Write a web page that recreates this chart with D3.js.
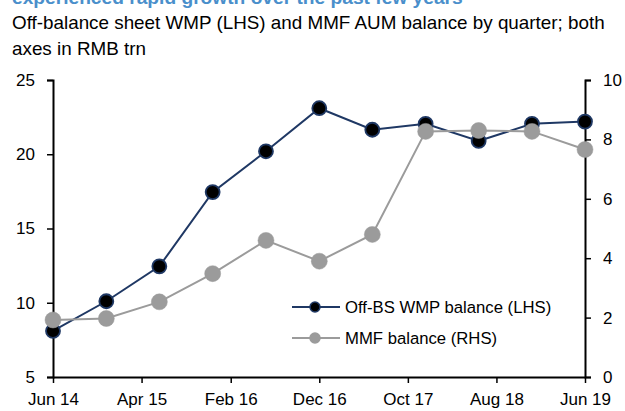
<!DOCTYPE html>
<html>
<head>
<meta charset="utf-8">
<script src="https://cdn.jsdelivr.net/npm/d3@7"></script>
<style>
  html, body { margin: 0; padding: 0; background: #fff; }
  svg { display: block; font-family: Arial, "Liberation Sans", sans-serif; }
</style>
</head>
<body>
<svg id="chart" width="625" height="411"></svg>
<script>
// ---- data ----
const dates = ["2014-06","2014-12","2015-06","2015-12","2016-06","2016-12","2017-06","2017-12","2018-06","2018-12","2019-06"];
const wmpValues = [8.1, 10.1, 12.45, 17.45, 20.2, 23.1, 21.65, 22.05, 20.9, 22.05, 22.2];
const mmfValues = [1.92, 1.97, 2.53, 3.48, 4.6, 3.9, 4.8, 8.27, 8.3, 8.27, 7.66];
const xTickLabels = ["2014-06","2015-04","2016-02","2016-12","2017-10","2018-08","2019-06"];
const leftTicks = [5, 10, 15, 20, 25];
const rightTicks = [0, 2, 4, 6, 8, 10];
const seriesNames = ["Off-BS WMP balance (LHS)", "MMF balance (RHS)"];
const titleText = "experienced rapid growth over the past few years";
const subtitleLines = ["Off-balance sheet WMP (LHS) and MMF AUM balance by quarter; both", "axes in RMB trn"];

const parse = d3.timeParse("%Y-%m");
const fmt = d3.timeFormat("%b %y");

const svg = d3.select("#chart");
const m = {left: 53, right: 585, top: 80, bottom: 377};

const x = d3.scaleTime().domain([parse(dates[0]), parse(dates[dates.length-1])]).range([m.left, m.right]);
const yL = d3.scaleLinear().domain([5, 25]).range([m.bottom, m.top]);
const yR = d3.scaleLinear().domain([0, 10]).range([m.bottom, m.top]);

const navy = "#1f3864";
const gray = "#9b9b9b";

// fit a text element's font size so it spans a target width
function fitSize(sel, base, target) {
  sel.attr("font-size", base);
  const w = sel.node().getComputedTextLength();
  const fs = base * target / w;
  sel.attr("font-size", fs);
  return fs;
}

// titles
const t0 = svg.append("text").attr("x", 12).attr("y", 4)
  .attr("font-weight", "bold").attr("fill", "#4a8fcb").text(titleText);
fitSize(t0, 18, 451);
const s1 = svg.append("text").attr("x", 12).attr("y", 28.5).attr("fill", "#000").text(subtitleLines[0]);
const fsSub = fitSize(s1, 18, 593);
svg.append("text").attr("x", 12).attr("y", 54.5).attr("fill", "#000")
  .attr("font-size", fsSub).text(subtitleLines[1]);

// axes
function styleAxis(g) {
  g.selectAll("path").attr("stroke", "#000").attr("stroke-width", 2);
  g.selectAll("line").attr("stroke", "#000").attr("stroke-width", 1.5);
  g.selectAll("text").attr("font-size", 17).attr("fill", "#000").attr("font-family", "Arial, 'Liberation Sans', sans-serif");
}
svg.append("g").attr("transform", `translate(${m.left},0)`)
  .call(d3.axisLeft(yL).tickValues(leftTicks).tickSizeInner(6).tickSizeOuter(6).tickPadding(12))
  .call(styleAxis);
svg.append("g").attr("transform", `translate(${m.right},0)`)
  .call(d3.axisRight(yR).tickValues(rightTicks).tickSizeInner(6).tickSizeOuter(6).tickPadding(12))
  .call(styleAxis);
svg.append("g").attr("transform", `translate(0,${m.bottom})`)
  .call(d3.axisBottom(x).tickValues(xTickLabels.map(parse)).tickFormat(fmt).tickSizeInner(6).tickSizeOuter(0).tickPadding(10))
  .call(styleAxis);

// series
const wmp = dates.map((d, i) => ({d: parse(d), v: wmpValues[i]}));
const mmf = dates.map((d, i) => ({d: parse(d), v: mmfValues[i]}));

svg.append("path").datum(wmp)
  .attr("d", d3.line().x(p => x(p.d)).y(p => yL(p.v)))
  .attr("fill", "none").attr("stroke", navy).attr("stroke-width", 2);
svg.selectAll("circle.wmp").data(wmp).join("circle").attr("class", "wmp")
  .attr("cx", p => x(p.d)).attr("cy", p => yL(p.v)).attr("r", 7)
  .attr("fill", "#000").attr("stroke", navy).attr("stroke-width", 1.8);

svg.append("path").datum(mmf)
  .attr("d", d3.line().x(p => x(p.d)).y(p => yR(p.v)))
  .attr("fill", "none").attr("stroke", gray).attr("stroke-width", 2);
svg.selectAll("circle.mmf").data(mmf).join("circle").attr("class", "mmf")
  .attr("cx", p => x(p.d)).attr("cy", p => yR(p.v)).attr("r", 8)
  .attr("fill", gray).attr("stroke", gray).attr("stroke-width", 0.5);

// legend
const leg = [{name: seriesNames[0], c: navy, f: "#000", y: 307}, {name: seriesNames[1], c: gray, f: gray, y: 338}];
leg.forEach(l => {
  svg.append("line").attr("x1", 292).attr("x2", 340).attr("y1", l.y).attr("y2", l.y)
    .attr("stroke", l.c).attr("stroke-width", 2);
  svg.append("circle").attr("cx", 315).attr("cy", l.y).attr("r", 5)
    .attr("fill", l.f).attr("stroke", l.c).attr("stroke-width", 1.5);
  svg.append("text").attr("x", 345).attr("y", l.y + 6).attr("font-size", 16.7).attr("fill", "#000").text(l.name);
});
</script>
</body>
</html>
